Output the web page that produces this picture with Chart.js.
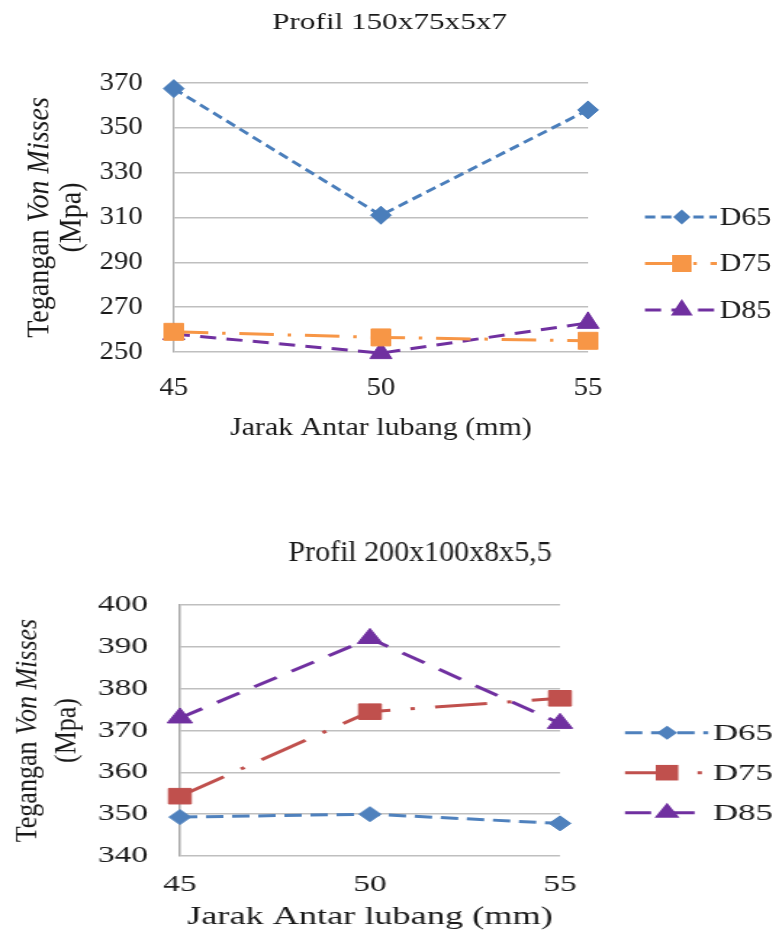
<!DOCTYPE html>
<html>
<head>
<meta charset="utf-8">
<script src="https://cdn.jsdelivr.net/npm/chart.js@4.4.1/dist/chart.umd.min.js"></script>
<style>
html, body { margin: 0; padding: 0; background: #fff; width: 779px; height: 934px; overflow: hidden; }
.wrap { position: absolute; left: 0; transform-origin: 0 0; }
</style>
</head>
<body>
<div class="wrap" style="top:0px;width:677px;height:450px;transform:scaleX(1.1507);"><canvas id="c1"></canvas></div>
<div class="wrap" style="top:500px;width:537px;height:434px;transform:scaleX(1.4507);"><canvas id="c2"></canvas></div>
<script>
// ---------- data ----------
const categories = ['45', '50', '55'];
const seriesNames = ['D65', 'D75', 'D85'];
const title1 = 'Profil 150x75x5x7';
const title2 = 'Profil 200x100x8x5,5';
const xAxisTitle = 'Jarak Antar lubang (mm)';
const yTitleParts = [['Tegangan ', false], ['Von Misses', true]];
const yTitleLine2 = '(Mpa)';

const p150_D65 = [367.5, 311, 358];
const p150_D75 = [259, 256.5, 255];
const p150_D85 = [258, 249.5, 263];
const yTicks1 = [250, 270, 290, 310, 330, 350, 370];

const p200_D65 = [349.3, 350, 347.8];
const p200_D75 = [354.3, 374.5, 377.7];
const p200_D85 = [373, 392, 371.7];
const yTicks2 = [340, 350, 360, 370, 380, 390, 400];

// ---------- helpers ----------
const FONT = '"Liberation Serif", "Times New Roman", serif';
const INK = '#1a1a1a';

function drawMarker(ctx, style, r, x, y, color) {
  ctx.save();
  ctx.fillStyle = color;
  ctx.beginPath();
  if (style === 'rectRot') {
    ctx.moveTo(x - r, y); ctx.lineTo(x, y - r); ctx.lineTo(x + r, y); ctx.lineTo(x, y + r);
  } else if (style === 'rect') {
    const s = Math.SQRT1_2 * r;
    ctx.rect(x - s, y - s, 2 * s, 2 * s);
  } else if (style === 'triangle') {
    for (let k = 0; k < 3; k++) {
      const ang = k * 2 * Math.PI / 3;
      const px = x + Math.sin(ang) * r, py = y - Math.cos(ang) * r;
      if (k === 0) ctx.moveTo(px, py); else ctx.lineTo(px, py);
    }
  }
  ctx.closePath();
  ctx.fill();
  ctx.restore();
}

const decor = {
  id: 'decor',
  beforeDraw(chart, args, o) {
    const tb = chart.titleBlock;
    if (tb && !tb._sxPatched) {
      const orig = tb.draw;
      tb.draw = function (area) {
        const ctx = chart.ctx;
        const cx = (tb.left + tb.right) / 2;
        ctx.save();
        ctx.translate(cx, 0);
        ctx.scale(o.titleSX, 1);
        ctx.translate(-cx, 0);
        orig.call(tb, area);
        ctx.restore();
      };
      tb._sxPatched = true;
    }
  },
  afterDraw(chart, args, o) {
    const ctx = chart.ctx, a = chart.chartArea;
    const cy = (a.top + a.bottom) / 2;
    // y axis title (two lines, rotated, mixed italic)
    ctx.save();
    ctx.fillStyle = INK;
    ctx.textBaseline = 'middle';
    ctx.textAlign = 'left';
    const fonts = yTitleParts.map(p => (p[1] ? 'italic ' : '') + o.yTitleSize + 'px ' + FONT);
    const widths = yTitleParts.map((p, i) => { ctx.font = fonts[i]; return ctx.measureText(p[0]).width; });
    const total = widths.reduce((s, w) => s + w, 0);
    ctx.translate(o.yTitleX1, cy);
    ctx.scale(o.yTitleSX, 1);
    ctx.rotate(-Math.PI / 2);
    let xx = -total / 2;
    yTitleParts.forEach((p, i) => { ctx.font = fonts[i]; ctx.fillText(p[0], xx, 0); xx += widths[i]; });
    ctx.restore();
    ctx.save();
    ctx.fillStyle = INK;
    ctx.textBaseline = 'middle';
    ctx.textAlign = 'center';
    ctx.font = o.yTitleSize + 'px ' + FONT;
    ctx.translate(o.yTitleX2, cy);
    ctx.scale(o.yTitleSX, 1);
    ctx.rotate(-Math.PI / 2);
    ctx.fillText(yTitleLine2, 0, 0);
    ctx.restore();
    // legend
    chart.data.datasets.forEach((ds, i) => {
      const y = o.legendY0 + i * o.legendGap;
      const x0 = a.right + o.legendX0;
      ctx.save();
      ctx.strokeStyle = ds.borderColor;
      ctx.lineWidth = ds.borderWidth;
      ctx.setLineDash(ds.borderDash || []);
      ctx.beginPath();
      ctx.moveTo(x0, y);
      ctx.lineTo(x0 + o.lineLen, y);
      ctx.stroke();
      ctx.setLineDash([]);
      drawMarker(ctx, ds.pointStyle, ds.legendRadius || ds.pointRadius, x0 + o.markerDx, y, ds.pointBackgroundColor);
      ctx.fillStyle = INK;
      ctx.font = o.legendSize + 'px ' + FONT;
      ctx.textAlign = 'left';
      ctx.textBaseline = 'middle';
      ctx.fillText(ds.label, x0 + o.textDx, y + 1);
      ctx.restore();
    });
  }
};

function makeDataset(label, data, color, dash, style, radius, legendRadius) {
  return {
    label, data,
    borderColor: color, backgroundColor: color,
    pointBackgroundColor: color, pointBorderColor: color,
    borderWidth: 3, borderDash: dash,
    pointStyle: style, pointRadius: radius, pointBorderWidth: 1,
    legendRadius,
    tension: 0, fill: false, clip: false
  };
}

function makeChart(id, cfg) {
  const yt = cfg.yTicks;
  return new Chart(document.getElementById(id), {
    type: 'line',
    data: { labels: categories, datasets: cfg.datasets },
    options: {
      responsive: true,
      maintainAspectRatio: false,
      devicePixelRatio: 1,
      animation: false,
      events: [],
      layout: { padding: cfg.padding },
      plugins: {
        legend: { display: false },
        tooltip: { enabled: false },
        title: {
          display: true, text: cfg.title, color: INK,
          font: { family: FONT, size: cfg.titleSize, weight: 'normal' },
          padding: cfg.titlePadding
        },
        decor: cfg.decor
      },
      scales: {
        x: {
          offset: false,
          afterFit: s => { s.height = cfg.xHeight; },
          grid: { display: false, drawTicks: false },
          border: { display: false },
          ticks: { color: INK, font: { family: FONT, size: cfg.xTickSize }, padding: cfg.xTickPad, maxRotation: 0 },
          title: { display: true, text: xAxisTitle, color: INK, font: { family: FONT, size: cfg.xTitleSize }, padding: { top: 0, bottom: 0 } }
        },
        y: {
          position: 'left',
          min: yt[0], max: yt[yt.length - 1],
          afterBuildTicks: s => { s.ticks = yt.map(v => ({ value: v })); },
          afterFit: s => { s.width = cfg.yWidth; },
          grid: { color: '#bfbfbf', lineWidth: 1.5, drawTicks: false },
          border: { display: true, color: '#a8a8a8', width: 1.5 },
          ticks: { color: INK, font: { family: FONT, size: cfg.yTickSize }, padding: cfg.yTickPad }
        },
        yR: {
          position: 'right',
          display: true,
          afterFit: s => { s.width = cfg.rightWidth; },
          grid: { display: false, drawTicks: false },
          border: { display: false },
          ticks: { display: false }
        }
      }
    },
    plugins: [decor]
  });
}

makeChart('c1', {
  title: title1, titleSize: 24, titlePadding: { top: 8.6, bottom: 45.6 },
  padding: { left: 0, right: 0, top: 0, bottom: 6.4 },
  yTicks: yTicks1, yWidth: 151, rightWidth: 166, yTickSize: 25, yTickPad: 27,
  xHeight: 91.6, xTickSize: 25, xTickPad: 21, xTitleSize: 26,
  datasets: [
    makeDataset(seriesNames[0], p150_D65, '#4A7EBB', [9, 5], 'rectRot', 9, 7.5),
    makeDataset(seriesNames[1], p150_D75, '#F79646', [30, 12, 3, 12], 'rect', 12, 12),
    makeDataset(seriesNames[2], p150_D85, '#7030A0', [14, 9], 'triangle', 11, 11)
  ],
  decor: { titleSX: 1.13, yTitleSize: 28, yTitleX1: 34.8, yTitleX2: 62.6, yTitleSX: 0.956,
           legendY0: 217, legendGap: 46.5, legendX0: 49.5, lineLen: 62.5, markerDx: 32, textDx: 65, legendSize: 26 }
});

makeChart('c2', {
  title: title2, titleSize: 30, titlePadding: { top: 35, bottom: 34 },
  padding: { left: 42, right: 0, top: 0, bottom: 1.4 },
  yTicks: yTicks2, yWidth: 82, rightWidth: 151, yTickSize: 23, yTickPad: 22,
  xHeight: 76.6, xTickSize: 23, xTickPad: 15, xTitleSize: 25,
  datasets: [
    makeDataset(seriesNames[0], p200_D65, '#4F81BD', [12, 6], 'rectRot', 7.5, 7),
    makeDataset(seriesNames[1], p200_D75, '#C0504D', [36, 14, 3, 14], 'rect', 11, 11),
    makeDataset(seriesNames[2], p200_D85, '#7030A0', [18, 12], 'triangle', 10, 10)
  ],
  decor: { titleSX: 0.689, yTitleSize: 26, yTitleX1: 19.3, yTitleX2: 46.2, yTitleSX: 0.79,
           legendY0: 232.7, legendGap: 40, legendX0: 44.8, lineLen: 57.4, markerDx: 29, textDx: 60.7, legendSize: 24 }
});
</script>
</body>
</html>
